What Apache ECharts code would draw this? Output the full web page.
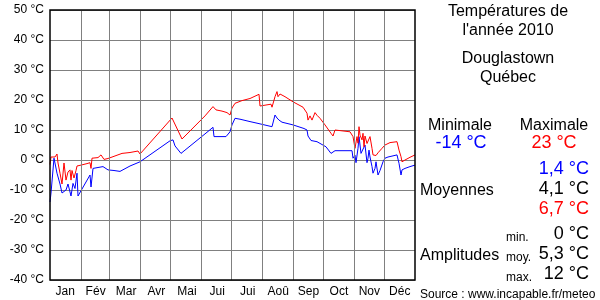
<!DOCTYPE html>
<html><head><meta charset="utf-8">
<script src="https://cdn.jsdelivr.net/npm/echarts@6/dist/echarts.min.js"></script>
<style>html,body{margin:0;padding:0;background:#fff}#c{width:600px;height:300px}</style>
</head><body><div id="c"></div>
<script>
const months = ['Jan','Fév','Mar','Avr','Mai','Jui','Jui','Aoû','Sep','Oct','Nov','Déc'];
const monthStarts = [31,59,90,120,151,181,212,243,273,304,334];

const minDays  = [0,1,4,5,7,10,12,14,16,18,20,21,23,25,27,28,40,41,43,45,53,58,64,70,80,90,120,123,125,131,155,163,164,176,180,182,185,190,200,208,222,225,227,229,232,243,254,257,258,261,263,267,276,281,285,302,303,305,306,308,309,311,312,313,315,317,318,319,320,322,323,325,326,328,330,333,335,338,342,347,348,349,351,352,355,360,365];
const minTemps = [-14,-11,0.6,1.1,-4.4,-8,-11,-11,-10,-8,-8.5,-12,-7.8,-9.5,-4.4,-12,-5,-9,-2.8,-3,-2.2,-3.3,-3.5,-3.8,-2,-0.6,6.4,6.7,4.7,2.2,8.7,10.9,7.8,7.8,9.4,11.7,13.9,13.6,12.8,12.2,11.1,15,14,13.3,12.6,11.7,10.5,10,8,6.5,6.9,6.1,4.4,2.2,3.1,3.1,0.6,1.6,-0.9,3.9,7.8,2.2,2.8,2.2,5,-0.9,0.6,3.3,1,-2.2,-4.4,-2.8,-0.6,-5,-3.5,-0.6,0.6,1,1.3,1.7,2.2,-1.1,-5,-3.3,-2.8,-2.2,-1.7];

const maxDays  = [0,1,5,7,8,10,12,14,16,18,20,21,22,24,26,27,31,37,40,41,42,44,48,51,52,54,58,72,80,88,90,122,132,155,163,166,172,177,178,180,182,185,192,200,209,210,221,222,225,227,228,230,235,243,253,257,258,260,262,263,265,267,270,275,281,283,285,300,303,305,307,308,309,310,312,313,314,315,317,318,320,322,323,325,326,328,330,332,335,340,347,348,349,351,352,355,360,365];
const maxTemps = [-1.5,1,1,2,-1,-4.4,-8,-1,-6.7,-4,-3.3,-6.7,-3.5,-6,-3.5,-2,-1.7,-1.2,-0.9,-2.8,0.6,0,0.8,1.7,2,0.2,0.5,2.2,2.5,3,2,14,7,14.7,17.8,16.7,16.3,15.8,16.3,15,17.3,18.9,19.8,20.5,21.9,18,18.6,17.6,21.1,22.8,21.1,22,21.1,19.4,17.6,15.6,13.3,14.7,13.3,13.1,15.8,14.9,13.9,11.7,8.9,8,10,9.4,7.8,3.9,7.8,5.6,11.1,8.3,6.7,8.9,4.4,8,5.5,6,7.8,3.9,1.7,2.2,1.5,2.4,2,3.9,5,5.8,6.1,6.1,3.3,1.1,-0.6,0,0.9,1.7];

const extremes = [-14, 23];
const moyennes = [1.4, 4.1, 6.7];
const amplitudes = [0, 5.3, 12];

const FF = '"Liberation Sans", Arial, sans-serif';
const fmt = v => String(v).replace('.', ',') + ' °C';
const pair = (d, v) => d.map((x, i) => [x, v[i]]);

const chart = echarts.init(document.getElementById('c'), null, {renderer: 'canvas'});

const DY = 1.5;
function txt(text, x, y, size, color, align) {
  return {type: 'text', x: x, y: y + DY, z: 200, silent: true,
    style: {text: text, font: size + 'px ' + FF, fill: color, align: align, verticalAlign: 'middle'}};
}

chart.setOption({
  animation: false,
  backgroundColor: '#fff',
  grid: {left: 50, right: 185, top: 10, bottom: 20, containLabel: false},
  xAxis: [
    {type: 'value', min: 0, max: 365, axisLine: {show: false}, axisTick: {show: false},
     axisLabel: {show: false}, splitLine: {show: false}},
    {type: 'category', data: months, position: 'bottom', boundaryGap: true,
     axisLine: {show: false}, axisTick: {show: false}, splitLine: {show: false},
     axisLabel: {color: '#000', fontSize: 12, fontFamily: FF, margin: 6, interval: 0}}
  ],
  yAxis: {type: 'value', min: -40, max: 50, interval: 10,
    axisLine: {show: false}, axisTick: {show: false},
    axisLabel: {formatter: '{value} °C', color: '#000', fontSize: 12, fontFamily: FF, margin: 6,
                padding: [3, 0, 0, 0]},
    splitLine: {lineStyle: {color: '#808080', width: 1}}},
  series: [
    {type: 'line', xAxisIndex: 0, data: [], z: 1, silent: true,
     markLine: {silent: true, symbol: 'none', label: {show: false},
       lineStyle: {color: '#808080', width: 1, type: 'solid'},
       data: monthStarts.map(d => ({xAxis: d}))}},
    {type: 'line', xAxisIndex: 0, data: pair(minDays, minTemps), showSymbol: false, z: 3,
     lineStyle: {color: '#0000ff', width: 1}, itemStyle: {color: '#0000ff'}},
    {type: 'line', xAxisIndex: 0, data: pair(maxDays, maxTemps), showSymbol: false, z: 4,
     lineStyle: {color: '#ff0000', width: 1}, itemStyle: {color: '#ff0000'}}
  ],
  graphic: [
    {type: 'rect', z: 100, silent: true, shape: {x: 50, y: 10, width: 365, height: 270},
     style: {fill: null, stroke: '#000', lineWidth: 1.5}},
    txt('Températures de', 508, 10, 16, '#000', 'center'),
    txt("l'année 2010", 508, 29, 16, '#000', 'center'),
    txt('Douglastown', 508, 57.5, 16, '#000', 'center'),
    txt('Québec', 508, 76, 16, '#000', 'center'),
    txt('Minimale', 460, 124, 16, '#000', 'center'),
    txt('Maximale', 554, 124, 16, '#000', 'center'),
    txt(fmt(extremes[0]), 461, 142, 18, '#0000ff', 'center'),
    txt(fmt(extremes[1]), 554, 142, 18, '#ff0000', 'center'),
    txt(fmt(moyennes[0]), 589, 168, 18, '#0000ff', 'right'),
    txt('Moyennes', 420, 189, 16, '#000', 'left'),
    txt(fmt(moyennes[1]), 589, 188, 18, '#000', 'right'),
    txt(fmt(moyennes[2]), 589, 208, 18, '#ff0000', 'right'),
    txt('min.', 506, 236, 12, '#000', 'left'),
    txt(fmt(amplitudes[0]), 589, 233, 18, '#000', 'right'),
    txt('Amplitudes', 420, 254, 16, '#000', 'left'),
    txt('moy.', 506, 256, 12, '#000', 'left'),
    txt(fmt(amplitudes[1]), 589, 253, 18, '#000', 'right'),
    txt('max.', 506, 276, 12, '#000', 'left'),
    txt(fmt(amplitudes[2]), 589, 273, 18, '#000', 'right'),
    txt('Source : www.incapable.fr/meteo', 420, 293, 12, '#000', 'left')
  ]
});
</script></body></html>
